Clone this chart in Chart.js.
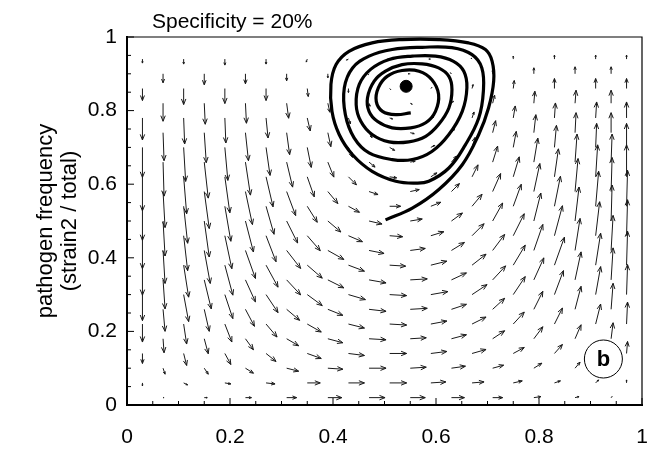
<!DOCTYPE html>
<html>
<head>
<meta charset="utf-8">
<script src="https://cdn.jsdelivr.net/npm/chart.js@4.4.1/dist/chart.umd.min.js"></script>
<style>
  html, body { margin: 0; padding: 0; background: #fff; }
</style>
</head>
<body>
<canvas id="fieldChart" width="650" height="454"></canvas>
<script>
// arrow grid positions (data units), main grid and offset grid
const gridX = [0.03, 0.11, 0.19, 0.27, 0.35, 0.43, 0.51, 0.59, 0.67, 0.75, 0.83, 0.91, 0.97];
const gridY = [0.94, 0.86, 0.78, 0.70, 0.62, 0.54, 0.46, 0.38, 0.30, 0.22, 0.14, 0.06];
const gridX2 = [0.07, 0.15, 0.23, 0.31, 0.39, 0.47, 0.55, 0.63, 0.71, 0.79, 0.87, 0.94];
const gridY2 = [0.90, 0.82, 0.74, 0.66, 0.58, 0.50, 0.42, 0.34, 0.26, 0.18, 0.10, 0.02];

// field components, one row per grid y value
const fieldU = [
  [0, 0, 0, 0, -1, -2, -2, -2, -1, 0, 0, 0, 0],
  [0, 0, 0, 0, 1, 0, 1, 1, 1, 1, 0, 0, 0],
  [0, 1, 1, 2, 3, 2, 3, 3, 2, 2, 1, 1, 0],
  [0, 2, 3, 4, 4, 4, 5, 4, 3, 3, 2, 1, 0],
  [0, 3, 5, 7, 7, 8, 7, 6, 6, 6, 4, 2, 0],
  [0, 4, 6, 8, 10, 11, 11, 10, 10, 8, 6, 3, 1],
  [0, 4, 7, 10, 13, 14, 13, 13, 12, 11, 8, 4, 1],
  [0, 5, 8, 12, 15, 16, 16, 16, 14, 12, 10, 5, 1],
  [0, 5, 8, 12, 15, 17, 17, 17, 15, 12, 9, 5, 1],
  [0, 3, 7, 11, 14, 16, 17, 16, 14, 11, 8, 5, 1],
  [0, 3, 6, 10, 14, 16, 17, 16, 14, 11, 8, 4, 1],
  [0, 4, 6, 9, 13, 16, 17, 15, 12, 9, 6, 3, 0]
];
const fieldV = [
  [-4, -5, -6, -5, -3, -1, 0, 0, 1, 3, 4, 4, 4],
  [-12, -16, -15, -12, -8, -4, -1, 1, 4, 8, 10, 10, 10],
  [-22, -26, -25, -20, -13, -6, -1, 1, 6, 12, 15, 16, 16],
  [-30, -34, -33, -28, -20, -10, -3, 2, 10, 16, 22, 24, 24],
  [-34, -37, -36, -30, -20, -8, -1, 4, 12, 20, 28, 32, 32],
  [-34, -37, -35, -28, -16, -6, 0, 4, 12, 22, 30, 35, 36],
  [-33, -35, -33, -26, -15, -6, -1, 4, 12, 22, 30, 34, 36],
  [-30, -32, -30, -22, -13, -6, -1, 4, 11, 20, 28, 32, 34],
  [-26, -27, -24, -18, -11, -5, -1, 3, 10, 18, 24, 28, 30],
  [-18, -20, -18, -13, -8, -4, -1, 3, 7, 12, 16, 20, 22],
  [-10, -12, -11, -8, -5, -2, 0, 2, 4, 6, 9, 10, 12],
  [-3, -2, -1, -1, 0, 0, 0, 1, 1, 2, 2, 3, 3]
];
const fieldU2 = [
  [0, 0, 0, 0, 0, -1, -2, -1, 0, 0, 0, 0],
  [0, 1, 1, 2, 2, 1, 2, 2, 2, 1, 1, 0],
  [1, 2, 3, 3, 3, 3, 4, 3, 3, 2, 1, 0],
  [1, 4, 5, 6, 6, 6, 5, 5, 5, 4, 2, 1],
  [2, 5, 7, 9, 10, 9, 9, 8, 8, 6, 3, 1],
  [2, 5, 8, 11, 13, 13, 12, 11, 10, 7, 4, 1],
  [2, 6, 10, 14, 16, 15, 15, 13, 12, 9, 5, 2],
  [2, 7, 10, 14, 16, 17, 17, 15, 13, 10, 6, 2],
  [2, 5, 9, 13, 15, 17, 17, 15, 12, 9, 6, 2],
  [1, 4, 8, 12, 15, 17, 16, 15, 12, 9, 6, 2],
  [2, 4, 8, 12, 15, 17, 16, 14, 11, 8, 5, 2],
  [1, 3, 6, 10, 14, 16, 15, 13, 10, 7, 4, 1]
];
const fieldV2 = [
  [-9, -11, -10, -7, -4, -1, 0, 1, 4, 6, 7, 7],
  [-18, -21, -20, -15, -9, -3, -1, 2, 8, 12, 13, 13],
  [-28, -30, -28, -22, -14, -5, -1, 4, 12, 18, 20, 20],
  [-34, -36, -33, -25, -15, -5, 1, 6, 16, 24, 28, 28],
  [-36, -37, -33, -24, -12, -3, 2, 8, 18, 28, 33, 34],
  [-35, -36, -31, -22, -11, -3, 2, 8, 18, 28, 34, 36],
  [-33, -33, -28, -18, -9, -3, 2, 8, 16, 26, 32, 35],
  [-29, -29, -22, -15, -8, -3, 1, 7, 14, 22, 28, 32],
  [-22, -22, -17, -11, -6, -2, 1, 5, 11, 18, 23, 26],
  [-14, -15, -11, -7, -4, -1, 1, 4, 8, 12, 14, 16],
  [-6, -6, -5, -3, -1, 0, 1, 2, 3, 5, 6, 7],
  [0, 0, 0, 0, 0, 0, 0, 0, 0, 1, 1, 1]
];

// trajectory spiralling in towards the fixed point
const spiralX = [0.502, 0.554, 0.605, 0.651, 0.683, 0.702, 0.712, 0.709, 0.696, 0.663, 0.605, 0.534, 0.476, 0.431, 0.406, 0.396, 0.398, 0.412, 0.438, 0.476, 0.522, 0.560,
  0.586, 0.625, 0.657, 0.683, 0.692, 0.689, 0.670, 0.631, 0.573, 0.515, 0.470, 0.438, 0.422, 0.424, 0.441, 0.470, 0.515, 0.554,
  0.592, 0.625, 0.651, 0.660, 0.654, 0.634, 0.599, 0.554, 0.509, 0.473, 0.451, 0.445, 0.454, 0.476, 0.509, 0.547,
  0.580, 0.605, 0.625, 0.631, 0.625, 0.605, 0.573, 0.534, 0.502, 0.480, 0.467, 0.470, 0.486, 0.515, 0.551,
  0.580, 0.599, 0.605, 0.592, 0.567, 0.534, 0.505, 0.488, 0.484, 0.496, 0.522, 0.551];
const spiralY = [0.503, 0.535, 0.585, 0.653, 0.735, 0.807, 0.880, 0.934, 0.966, 0.984, 0.993, 0.993, 0.984, 0.961, 0.925, 0.871, 0.798, 0.735, 0.680, 0.635, 0.608, 0.603,
  0.608, 0.644, 0.707, 0.780, 0.853, 0.916, 0.952, 0.971, 0.972, 0.966, 0.948, 0.916, 0.862, 0.789, 0.726, 0.685, 0.667, 0.667,
  0.689, 0.735, 0.798, 0.862, 0.907, 0.934, 0.948, 0.948, 0.939, 0.912, 0.871, 0.816, 0.771, 0.735, 0.715, 0.715,
  0.730, 0.762, 0.807, 0.857, 0.893, 0.916, 0.927, 0.925, 0.907, 0.880, 0.835, 0.798, 0.771, 0.753, 0.753,
  0.767, 0.798, 0.844, 0.884, 0.907, 0.909, 0.893, 0.862, 0.825, 0.798, 0.789, 0.794];

const fixedPoint = { x: 0.542, y: 0.866 };
const panelLabel = { x: 0.925, y: 0.125, text: 'b' };
const titleText = 'Specificity = 20%';
const axisTicks = [0, 0.2, 0.4, 0.6, 0.8, 1];

const FONT = '"Liberation Sans", Arial, Helvetica, sans-serif';

const spiralData = spiralX.map((x, i) => ({ x: x, y: spiralY[i] }));

function drawArrow(ctx, x0, y0, x1, y1) {
  const dx = x1 - x0, dy = y1 - y0;
  const len = Math.sqrt(dx * dx + dy * dy);
  if (len < 0.5) return;
  ctx.beginPath();
  ctx.moveTo(x0, y0);
  ctx.lineTo(x1, y1);
  const a = Math.atan2(dy, dx);
  const h = Math.min(6, len * 0.45);
  ctx.moveTo(x1 - h * Math.cos(a - 0.38), y1 - h * Math.sin(a - 0.38));
  ctx.lineTo(x1, y1);
  ctx.lineTo(x1 - h * Math.cos(a + 0.38), y1 - h * Math.sin(a + 0.38));
  ctx.stroke();
}

function drawField(ctx, xs, ys, gx, gy, U, V) {
  gy.forEach((vy, r) => {
    gx.forEach((vx, c) => {
      const px = xs.getPixelForValue(vx);
      const py = ys.getPixelForValue(vy);
      drawArrow(ctx, px, py, px + U[r][c], py - V[r][c]);
    });
  });
}

// vector field under the trajectory
const quiverPlugin = {
  id: 'quiver',
  beforeDatasetsDraw(chart) {
    const { ctx, chartArea: a, scales: { x, y } } = chart;
    ctx.save();
    ctx.beginPath();
    ctx.rect(a.left, a.top, a.right - a.left, a.bottom - a.top);
    ctx.clip();
    ctx.strokeStyle = '#1a1a1a';
    ctx.lineWidth = 1;
    drawField(ctx, x, y, gridX, gridY, fieldU, fieldV);
    drawField(ctx, x, y, gridX2, gridY2, fieldU2, fieldV2);
    ctx.restore();
  }
};

// inward ticks, frame, title and panel label
const decorPlugin = {
  id: 'decor',
  afterDraw(chart) {
    const { ctx, chartArea: a, scales: { x, y } } = chart;
    ctx.save();
    ctx.strokeStyle = '#000';
    ctx.lineWidth = 1.2;
    ctx.beginPath();
    ctx.moveTo(a.left, a.top);
    ctx.lineTo(a.right, a.top);
    ctx.lineTo(a.right, a.bottom);
    ctx.stroke();

    ctx.lineWidth = 1;
    ctx.beginPath();
    for (let k = 0; k <= 20; k++) {
      const v = k / 20;
      const major = k % 4 === 0;
      const px = x.getPixelForValue(v);
      ctx.moveTo(px, a.bottom);
      ctx.lineTo(px, a.bottom - (major ? 7 : 4));
      const py = y.getPixelForValue(v);
      ctx.moveTo(a.left, py);
      ctx.lineTo(a.left + (major ? 7 : 4), py);
    }
    ctx.stroke();

    ctx.fillStyle = '#000';
    ctx.font = '21px ' + FONT;
    ctx.textAlign = 'left';
    ctx.textBaseline = 'alphabetic';
    ctx.fillText(titleText, 152, 28);

    const cx = x.getPixelForValue(panelLabel.x);
    const cy = y.getPixelForValue(panelLabel.y);
    ctx.beginPath();
    ctx.arc(cx, cy, 19, 0, Math.PI * 2);
    ctx.fillStyle = '#fff';
    ctx.fill();
    ctx.lineWidth = 1;
    ctx.stroke();
    ctx.fillStyle = '#000';
    ctx.font = 'bold 22px ' + FONT;
    ctx.textAlign = 'center';
    ctx.textBaseline = 'middle';
    ctx.fillText(panelLabel.text, cx, cy + 1);
    ctx.restore();
  }
};

new Chart(document.getElementById('fieldChart'), {
  type: 'scatter',
  data: {
    datasets: [
      {
        data: spiralData,
        showLine: true,
        borderColor: '#000',
        borderWidth: 3.2,
        pointRadius: 0,
        tension: 0.4,
        fill: false
      },
      {
        data: [fixedPoint],
        pointRadius: 6,
        backgroundColor: '#000',
        borderColor: '#000'
      }
    ]
  },
  options: {
    responsive: false,
    animation: false,
    layout: { padding: { top: 37, right: 8, left: 0, bottom: 0 } },
    plugins: {
      legend: { display: false },
      tooltip: { enabled: false }
    },
    scales: {
      x: {
        type: 'linear',
        min: 0,
        max: 1,
        afterBuildTicks: s => { s.ticks = axisTicks.map(v => ({ value: v })); },
        afterFit: s => { s.height = 49; s.paddingLeft = 0; s.paddingRight = 0; },
        ticks: {
          color: '#000',
          font: { family: FONT, size: 21 },
          padding: 20,
          maxRotation: 0,
          callback: v => String(v)
        },
        grid: { display: false, drawTicks: false },
        border: { display: true, color: '#000', width: 2 }
      },
      y: {
        type: 'linear',
        min: 0,
        max: 1,
        afterBuildTicks: s => { s.ticks = axisTicks.map(v => ({ value: v })); },
        afterFit: s => { s.width = 127; s.paddingTop = 0; s.paddingBottom = 0; },
        ticks: {
          color: '#000',
          font: { family: FONT, size: 21 },
          padding: 10,
          callback: v => String(v)
        },
        grid: { display: false, drawTicks: false },
        border: { display: true, color: '#000', width: 2 },
        title: {
          display: true,
          text: ['pathogen frequency', '(strain2 / total)'],
          color: '#000',
          font: { family: FONT, size: 22, lineHeight: 1.1 },
          padding: { top: 34 }
        }
      }
    }
  },
  plugins: [quiverPlugin, decorPlugin]
});
</script>
</body>
</html>
